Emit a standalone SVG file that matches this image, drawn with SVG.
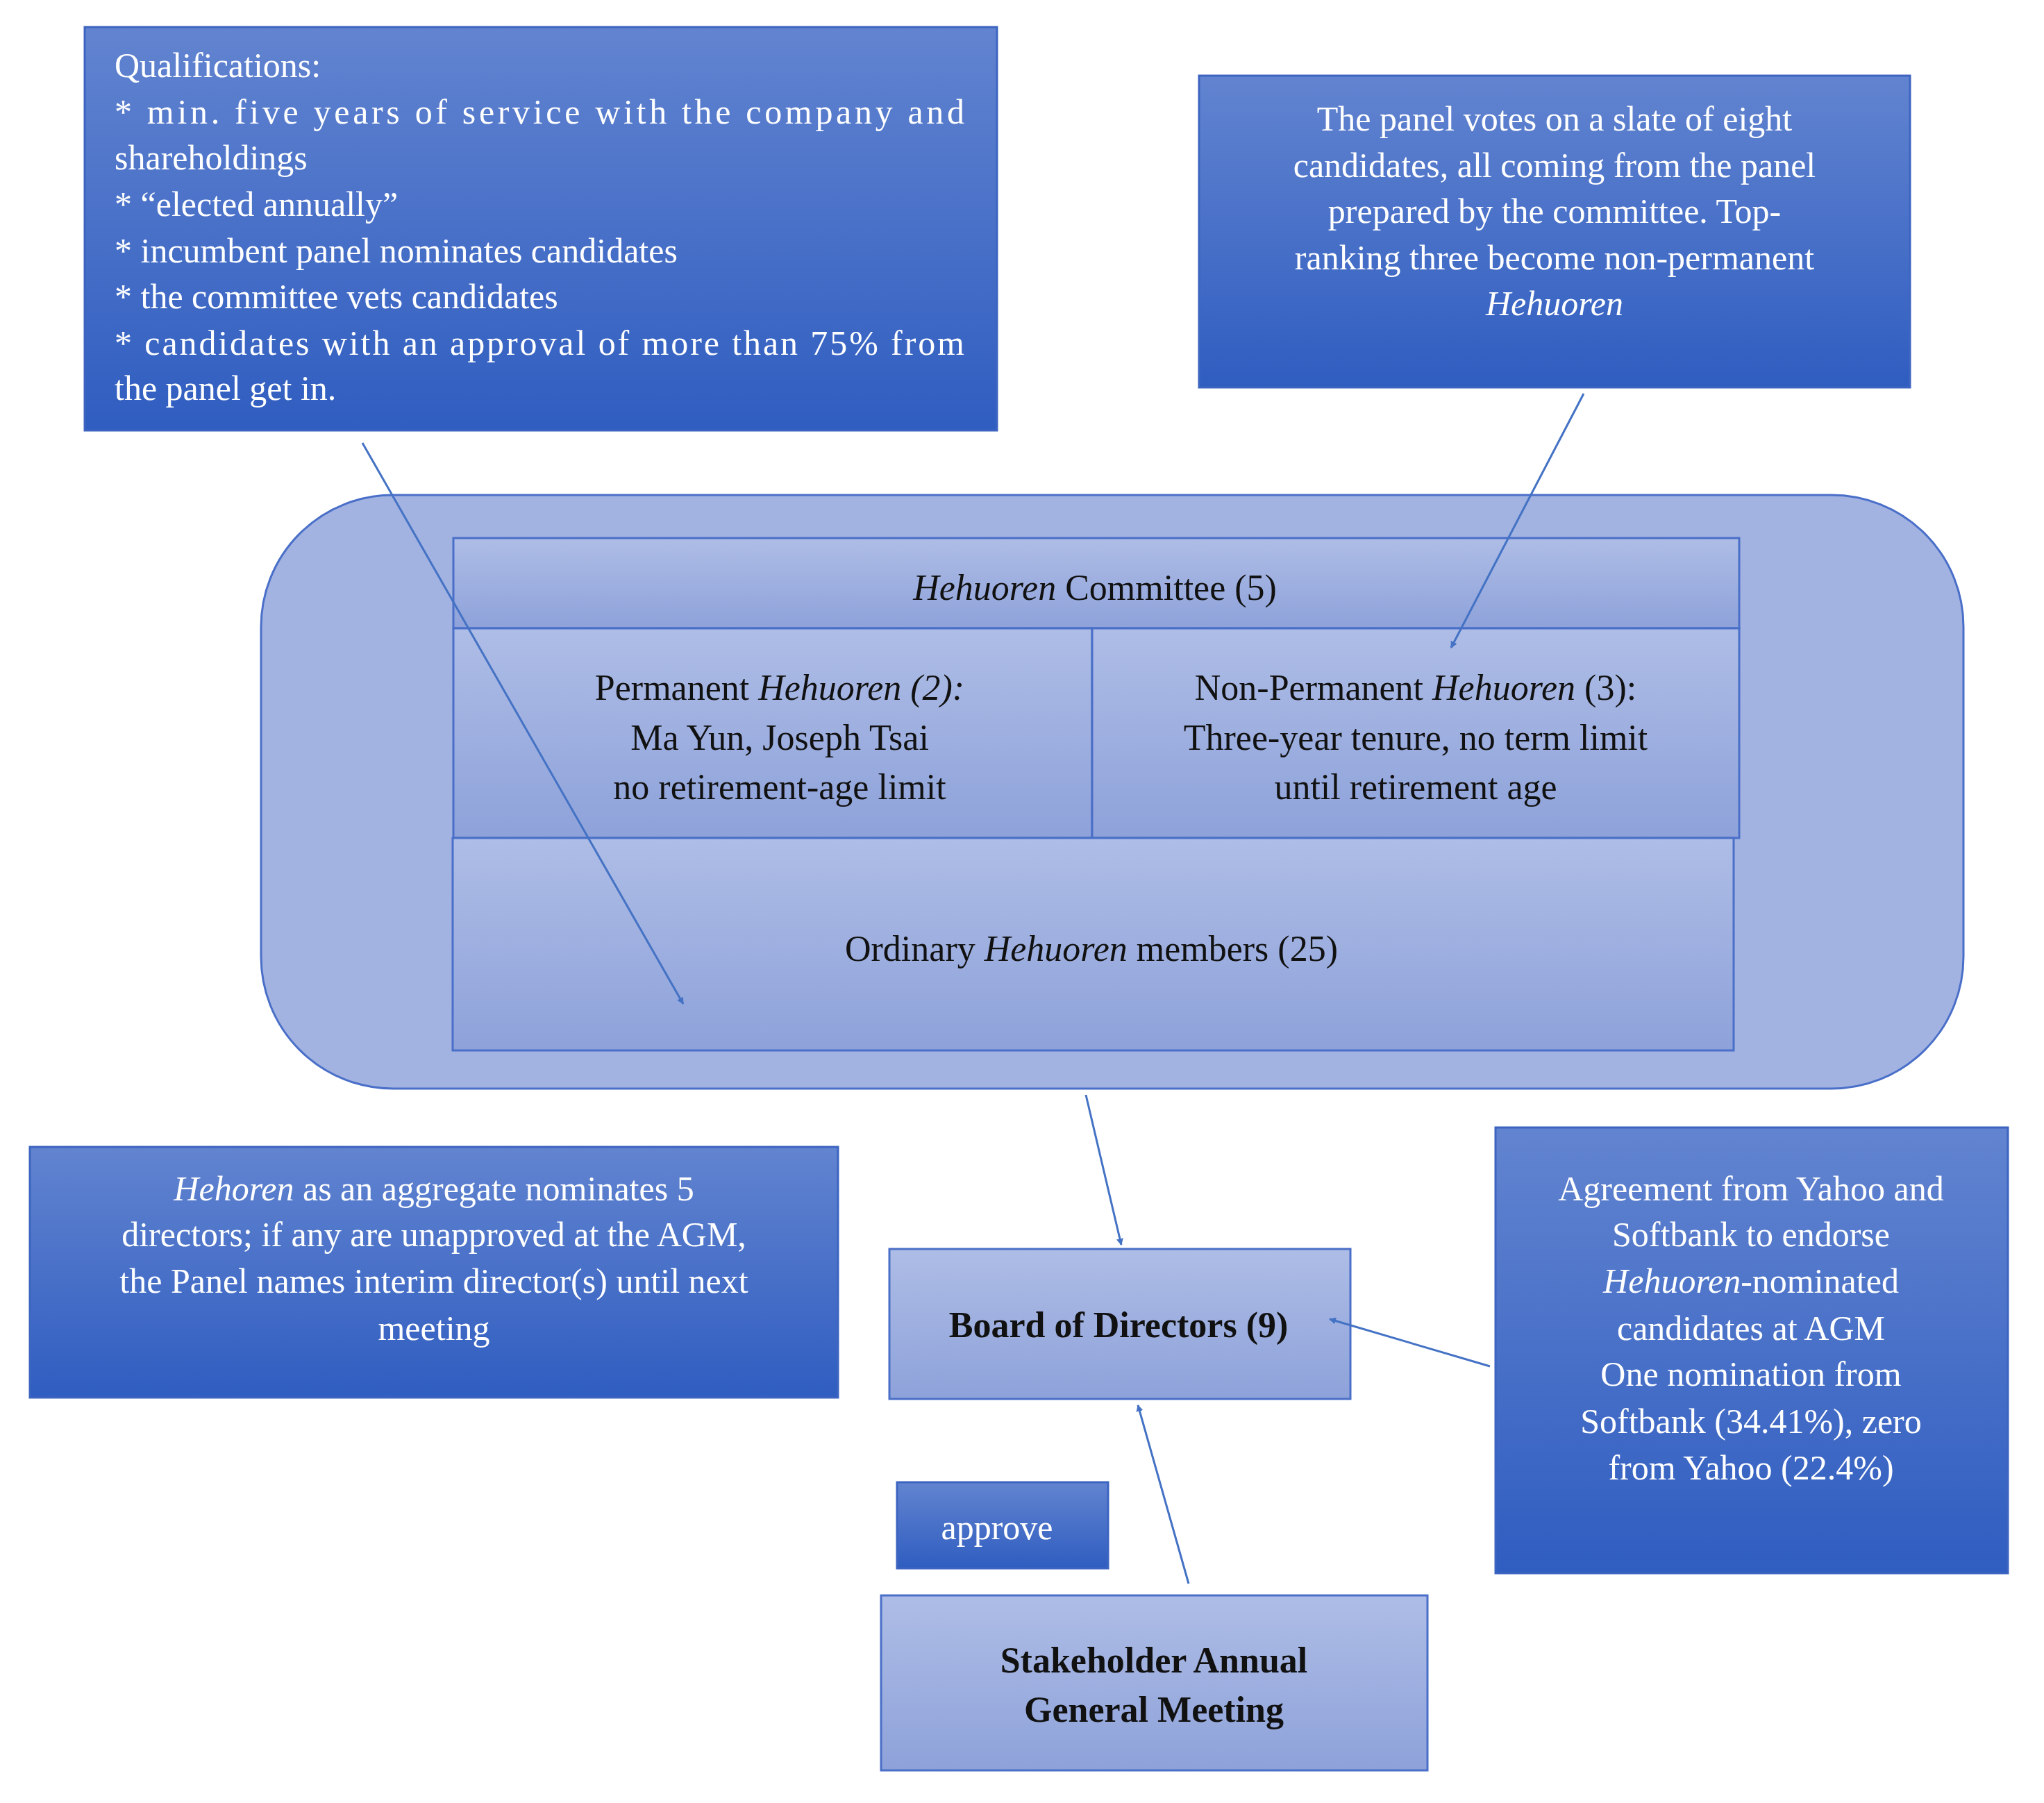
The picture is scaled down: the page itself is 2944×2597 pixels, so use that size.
<svg xmlns="http://www.w3.org/2000/svg" width="2944" height="2597" viewBox="0 0 2944 2597">
<defs>
<linearGradient id="dk" x1="0" y1="0" x2="0" y2="1"><stop offset="0" stop-color="#6284d0"/><stop offset="1" stop-color="#2f5dc0"/></linearGradient>
<linearGradient id="lt" x1="0" y1="0" x2="0" y2="1"><stop offset="0" stop-color="#aebde6"/><stop offset="1" stop-color="#8ea2da"/></linearGradient>
<marker id="ah" markerWidth="10" markerHeight="10" refX="9" refY="5" orient="auto" markerUnits="userSpaceOnUse" viewBox="0 0 10 10"><path d="M0,0 L10,5 L0,10 z" fill="#4472c4"/></marker>
<style>
.d{fill:url(#dk);stroke:#3d64c0;stroke-width:3}
.l{fill:url(#lt);stroke:#4a6fc8;stroke-width:3}
.w{font-family:"Liberation Serif",serif;font-size:50px;fill:#fff}
.k{font-family:"Liberation Serif",serif;font-size:52px;fill:#111}
.c{text-anchor:middle}
.b{font-weight:bold}
.i{font-style:italic}
.cn{stroke:#4472c4;stroke-width:3;fill:none}
</style>
</defs>
<rect width="2944" height="2597" fill="#fff"/>
<g id="qual"><rect class="d" x="122" y="39" width="1314" height="581"/>
<text class="w" x="165" y="111">Qualifications:</text>
<text class="w" x="165" y="178" textLength="1224" lengthAdjust="spacing">* min. five years of service with the company and</text>
<text class="w" x="165" y="244">shareholdings</text>
<text class="w" x="165" y="311">* “elected annually”</text>
<text class="w" x="165" y="378">* incumbent panel nominates candidates</text>
<text class="w" x="165" y="444">* the committee vets candidates</text>
<text class="w" x="165" y="511" textLength="1224" lengthAdjust="spacing">* candidates with an approval of more than 75% from</text>
<text class="w" x="165" y="576">the panel get in.</text></g>
<g id="panel"><rect class="d" x="1727" y="109" width="1024" height="449"/>
<text class="w c" x="2239" y="188">The panel votes on a slate of eight</text>
<text class="w c" x="2239" y="255">candidates, all coming from the panel</text>
<text class="w c" x="2239" y="321">prepared by the committee. Top-</text>
<text class="w c" x="2239" y="388">ranking three become non-permanent</text>
<text class="w c i" x="2239" y="454">Hehuoren</text></g>
<g id="hehuoren"><rect x="376" y="713" width="2452" height="855" rx="190" fill="#a2b3e2" stroke="#4a6fc8" stroke-width="3"/></g>
<g id="committee"><rect class="l" x="653" y="775" width="1852" height="130"/>
<text class="k c" x="1577" y="864"><tspan class="i">Hehuoren</tspan> Committee (5)</text></g>
<g id="permanent"><rect class="l" x="653" y="905" width="920" height="302"/>
<text class="k c" x="1123" y="1008">Permanent <tspan class="i">Hehuoren (2):</tspan></text>
<text class="k c" x="1123" y="1080">Ma Yun, Joseph Tsai</text>
<text class="k c" x="1123" y="1151">no retirement-age limit</text></g>
<g id="nonperm"><rect class="l" x="1573" y="905" width="932" height="302"/>
<text class="k c" x="2039" y="1008">Non-Permanent <tspan class="i">Hehuoren</tspan> (3):</text>
<text class="k c" x="2039" y="1080">Three-year tenure, no term limit</text>
<text class="k c" x="2039" y="1151">until retirement age</text></g>
<g id="ordinary"><rect class="l" x="652" y="1207" width="1845" height="306"/>
<text class="k c" x="1572" y="1384">Ordinary <tspan class="i">Hehuoren</tspan> members (25)</text></g>
<g id="hehoren"><rect class="d" x="43" y="1652" width="1164" height="361"/>
<text class="w c" x="625" y="1729"><tspan class="i">Hehoren</tspan> as an aggregate nominates 5</text>
<text class="w c" x="625" y="1795">directors; if any are unapproved at the AGM,</text>
<text class="w c" x="625" y="1862">the Panel names interim director(s) until next</text>
<text class="w c" x="625" y="1930">meeting</text></g>
<g id="board"><rect class="l" x="1281" y="1799" width="664" height="216"/>
<text class="k c b" x="1611" y="1926">Board of Directors (9)</text></g>
<g id="agreement"><rect class="d" x="2154" y="1624" width="738" height="642"/>
<text class="w c" x="2522" y="1729">Agreement from Yahoo and</text>
<text class="w c" x="2522" y="1795">Softbank to endorse</text>
<text class="w c" x="2522" y="1862"><tspan class="i">Hehuoren</tspan>-nominated</text>
<text class="w c" x="2522" y="1930">candidates at AGM</text>
<text class="w c" x="2522" y="1996">One nomination from</text>
<text class="w c" x="2522" y="2064">Softbank (34.41%), zero</text>
<text class="w c" x="2522" y="2131">from Yahoo (22.4%)</text></g>
<g id="approve"><rect class="d" x="1292" y="2135" width="304" height="124"/>
<text class="w c" x="1436" y="2217">approve</text></g>
<g id="agm"><rect class="l" x="1269" y="2298" width="787" height="252"/>
<text class="k c b" x="1662" y="2409">Stakeholder Annual</text>
<text class="k c b" x="1662" y="2480">General Meeting</text></g>
<g id="connectors">
<line class="cn" x1="522" y1="638" x2="984" y2="1446" marker-end="url(#ah)"/>
<line class="cn" x1="2281" y1="567" x2="2090" y2="933" marker-end="url(#ah)"/>
<line class="cn" x1="1564" y1="1577" x2="1615" y2="1793" marker-end="url(#ah)"/>
<line class="cn" x1="2146" y1="1968" x2="1915" y2="1900" marker-end="url(#ah)"/>
<line class="cn" x1="1712" y1="2281" x2="1639" y2="2024" marker-end="url(#ah)"/>
</g>
</svg>
